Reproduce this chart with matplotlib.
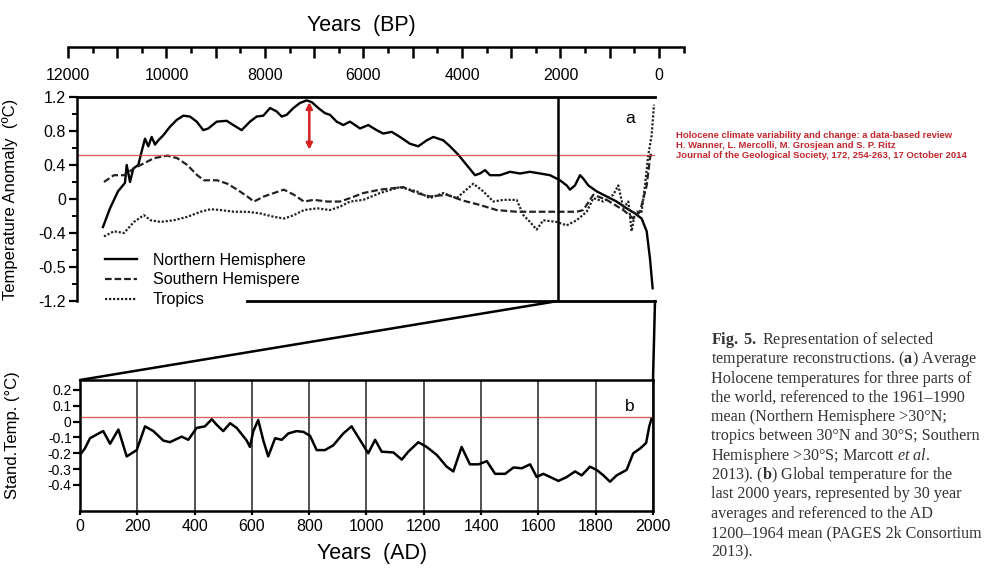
import numpy as np
import matplotlib
matplotlib.use('Agg')
import matplotlib.pyplot as plt
from matplotlib.ticker import MultipleLocator, FixedLocator, FuncFormatter
from matplotlib.patches import ConnectionPatch

plt.rcParams['font.family'] = 'Liberation Sans'
plt.rcParams['mathtext.fontset'] = 'custom'
plt.rcParams['mathtext.rm'] = 'Liberation Serif'
plt.rcParams['mathtext.bf'] = 'Liberation Serif:bold'
plt.rcParams['mathtext.it'] = 'Liberation Serif:italic'

# panel a: Holocene reconstructions (years BP, anomaly degC)
nh_bp = [11290, 11147, 10985, 10843, 10808, 10741, 10673, 10572, 10504, 10436,
         10369, 10301, 10233, 10166, 10064, 9929, 9793, 9658, 9523, 9387,
         9252, 9150, 8981, 8778, 8643, 8474, 8305, 8169, 8034, 7898,
         7763, 7661, 7560, 7424, 7289, 7154, 7052, 6917, 6782, 6680,
         6545, 6410, 6274, 6071, 5902, 5733, 5598, 5428, 5259, 5056,
         4887, 4717, 4582, 4379, 4244, 4074, 3905, 3736, 3635, 3533,
         3431, 3228, 3025, 2822, 2619, 2416, 2213, 2010, 1875, 1807,
         1706, 1604, 1537, 1435, 1266, 1063, 860, 657, 487, 352,
         250, 183, 129]
nh_t = [-0.33, -0.11, 0.09, 0.19, 0.40, 0.20, 0.36, 0.40, 0.56, 0.71,
        0.62, 0.73, 0.64, 0.69, 0.75, 0.85, 0.93, 0.98, 0.97, 0.91,
        0.81, 0.83, 0.91, 0.92, 0.87, 0.81, 0.91, 0.97, 0.98, 1.07,
        1.03, 0.97, 0.99, 1.07, 1.13, 1.16, 1.14, 1.07, 1.01, 0.99,
        0.91, 0.87, 0.91, 0.83, 0.87, 0.81, 0.77, 0.79, 0.73, 0.65,
        0.62, 0.69, 0.73, 0.69, 0.62, 0.52, 0.40, 0.28, 0.30, 0.34,
        0.28, 0.28, 0.32, 0.30, 0.32, 0.30, 0.28, 0.22, 0.16, 0.11,
        0.16, 0.28, 0.24, 0.16, 0.09, 0.03, -0.03, -0.11, -0.17, -0.23,
        -0.38, -0.70, -1.05]

sh_bp = [11270, 11067, 10864, 10661, 10458, 10255, 9984, 9781, 9578, 9375,
         9239, 8969, 8766, 8563, 8360, 8225, 8022, 7819, 7616, 7413,
         7210, 7007, 6737, 6477, 6274, 6004, 5665, 5192, 4921, 4650,
         4312, 3973, 3635, 3296, 2890, 2484, 2078, 1672, 1537, 1333,
         1063, 724, 521, 386, 250, 183, 149]
sh_t = [0.20, 0.28, 0.28, 0.36, 0.42, 0.48, 0.51, 0.48, 0.40, 0.28,
        0.22, 0.22, 0.18, 0.11, 0.03, -0.03, 0.03, 0.07, 0.11, 0.05,
        -0.03, -0.01, -0.03, -0.03, 0.01, 0.07, 0.11, 0.14, 0.07, 0.03,
        0.05, -0.02, -0.07, -0.13, -0.15, -0.15, -0.15, -0.15, -0.13, 0.05,
        -0.01, -0.13, -0.23, -0.15, 0.16, 0.48, 0.56]

tr_bp = [11270, 11067, 10864, 10661, 10458, 10323, 10120, 9849, 9578, 9307,
         9104, 8900, 8630, 8360, 8096, 7819, 7616, 7413, 7210, 6940,
         6680, 6477, 6274, 6004, 5665, 5259, 4921, 4650, 4379, 4109,
         3770, 3567, 3364, 3161, 2890, 2754, 2619, 2484, 2348, 2078,
         1875, 1672, 1469, 1333, 1130, 927, 826, 724, 623, 555,
         487, 352, 284, 217, 149, 102]
tr_t = [-0.44, -0.38, -0.40, -0.27, -0.19, -0.25, -0.27, -0.25, -0.21, -0.15,
        -0.12, -0.13, -0.15, -0.15, -0.17, -0.21, -0.23, -0.19, -0.13, -0.11,
        -0.13, -0.09, -0.03, -0.01, 0.07, 0.14, 0.09, 0.01, 0.07, 0.01,
        0.18, 0.09, -0.03, -0.01, -0.01, -0.19, -0.27, -0.36, -0.25, -0.27,
        -0.31, -0.25, -0.15, 0.01, -0.03, 0.05, 0.16, -0.11, -0.03, -0.38,
        -0.15, -0.15, 0.16, 0.52, 0.75, 1.11]

a_ticks = [1.2, 0.8, 0.4, 0, -0.4, -0.8, -1.2]
a_ticklabels = ['1.2', '0.8', '0.4', '0', '-0.4', '-0.5', '-1.2']
a_ref = 0.52
arrow_bp = 7100
arrow_t = [0.58, 1.14]
split_bp = 2050

# panel b: last 2000 years (AD, standardised temp)
ad = [0, 17, 35, 70, 81, 105, 134, 163, 198, 227,
      256, 291, 314, 343, 355, 378, 407, 436, 460, 477,
      500, 524, 547, 582, 593, 605, 622, 640, 657, 681,
      704, 727, 756, 780, 803, 826, 855, 884, 919, 948,
      977, 1006, 1030, 1053, 1094, 1123, 1146, 1181, 1210, 1245,
      1280, 1303, 1332, 1361, 1391, 1420, 1449, 1484, 1513, 1542,
      1571, 1594, 1617, 1641, 1670, 1699, 1728, 1751, 1780, 1803,
      1827, 1850, 1873, 1908, 1931, 1955, 1976, 1987, 1995]
b_t = [-0.21, -0.17, -0.105, -0.07, -0.06, -0.14, -0.05, -0.22, -0.18, -0.03,
       -0.06, -0.12, -0.13, -0.105, -0.095, -0.115, -0.04, -0.03, 0.015, -0.02,
       -0.06, -0.01, -0.04, -0.12, -0.16, -0.06, 0.01, -0.12, -0.22, -0.105,
       -0.115, -0.075, -0.06, -0.065, -0.09, -0.18, -0.18, -0.15, -0.075, -0.03,
       -0.115, -0.2, -0.115, -0.19, -0.195, -0.24, -0.19, -0.13, -0.16, -0.21,
       -0.285, -0.315, -0.16, -0.27, -0.27, -0.25, -0.33, -0.33, -0.29, -0.295,
       -0.27, -0.35, -0.33, -0.35, -0.375, -0.35, -0.315, -0.34, -0.285, -0.305,
       -0.34, -0.38, -0.34, -0.305, -0.2, -0.17, -0.135, -0.03, 0.02]
b_ticks = [0.2, 0.1, 0, -0.1, -0.2, -0.3, -0.4]
b_ref = 0.03

citation = ['Holocene climate variability and change: a data-based review',
            'H. Wanner, L. Mercolli, M. Grosjean and S. P. Ritz',
            'Journal of the Geological Society, 172, 254-263, 17 October 2014']

caption = [r'$\mathbf{Fig.}$ $\mathbf{5.}$ Representation of selected',
           r'temperature reconstructions. ($\mathbf{a}$) Average',
           'Holocene temperatures for three parts of',
           'the world, referenced to the 1961\u20131990',
           'mean (Northern Hemisphere >30\u00b0N;',
           'tropics between 30\u00b0N and 30\u00b0S; Southern',
           r'Hemisphere >30$\degree$S; Marcott $\mathit{et}$ $\mathit{al.}$',
           r'2013). ($\mathbf{b}$) Global temperature for the',
           'last 2000 years, represented by 30 year',
           'averages and referenced to the AD',
           '1200\u20131964 mean (PAGES 2k Consortium',
           '2013).']

W, H = 989, 570
fig = plt.figure(figsize=(W / 100, H / 100), dpi=100)

def box(x0, y0, x1, y1):
    # pixel box (top-left origin) -> figure fraction rect
    return [x0 / W, 1 - y1 / H, (x1 - x0) / W, (y1 - y0) / H]

red = '#d03a3a'

# ---- top BP axis
axt = fig.add_axes(box(68, 46.7, 683.6, 46.8))
axt.patch.set_visible(False)
for s in ['top', 'left', 'right']:
    axt.spines[s].set_visible(False)
axt.spines['bottom'].set_linewidth(1.8)
axt.set_xlim(12000, -500)
axt.set_yticks([])
axt.xaxis.set_major_locator(MultipleLocator(1000))
axt.xaxis.set_minor_locator(MultipleLocator(500))
axt.xaxis.set_major_formatter(FuncFormatter(lambda v, p: '%d' % v if v % 2000 == 0 else ''))
axt.tick_params(axis='x', which='major', length=8, width=1.8, pad=7, labelsize=11.5)
axt.tick_params(axis='x', which='minor', length=4.5, width=1.8)
fig.text(361 / W, 1 - 25 / H, 'Years  (BP)', ha='center', va='center', fontsize=15.5)

# ---- panel a
axa = fig.add_axes(box(77, 97, 655, 301))
axa.set_xlim(11817, 81)
axa.set_ylim(-1.2, 1.2)
axa.plot(nh_bp, nh_t, color='black', lw=1.7, label='Northern Hemisphere')
axa.plot(sh_bp, sh_t, color='#222222', lw=1.6, dashes=(3, 1.3), label='Southern Hemispere')
axa.plot(tr_bp, tr_t, color='#222222', lw=1.6, dashes=(1, 0.8), label='Tropics')
axa.axhline(a_ref, color=red, lw=1.0, alpha=0.8)
axa.axvline(split_bp, color='black', lw=1.8)
axa.annotate('', xy=(arrow_bp, arrow_t[1]), xytext=(arrow_bp, arrow_t[0]),
             arrowprops=dict(arrowstyle='<|-|>', color='#d42020', lw=1.8,
                             mutation_scale=9, shrinkA=0, shrinkB=0))
for s in ['right', 'bottom']:
    axa.spines[s].set_visible(False)
axa.spines['top'].set_linewidth(2.0)
axa.spines['left'].set_linewidth(1.8)
axa.plot([0.294, 1], [0, 0], color='black', lw=2.0, transform=axa.transAxes, clip_on=False)
axa.set_xticks([])
axa.yaxis.set_major_locator(FixedLocator(a_ticks))
axa.set_yticklabels(a_ticklabels)
axa.yaxis.set_minor_locator(MultipleLocator(0.2))
axa.tick_params(axis='y', which='major', length=6, width=1.6, labelsize=11.5, pad=2)
axa.tick_params(axis='y', which='minor', length=3.5, width=1.4)
axa.set_ylabel('Temperature Anomaly  (\u00baC)', fontsize=12)
axa.yaxis.set_label_coords(-0.102, 0.5)
axa.text(0.957, 0.897, 'a', transform=axa.transAxes, ha='center', va='center', fontsize=12.5)
axa.legend(loc='lower left', bbox_to_anchor=(0.048, -0.03), frameon=False, fontsize=11.5,
           handlelength=2.0, handletextpad=1.0, labelspacing=0.3, borderpad=0, borderaxespad=0)

# ---- panel b
axb = fig.add_axes(box(80, 380, 653, 511))
axb.set_xlim(0, 2000)
axb.set_ylim(-0.565, 0.263)
axb.plot(ad, b_t, color='black', lw=1.8)
axb.axhline(b_ref, color=red, lw=1.0, alpha=0.8)
axb.xaxis.set_major_locator(MultipleLocator(200))
axb.xaxis.grid(True, color='#222222', lw=1.1)
axb.yaxis.set_major_locator(FixedLocator(b_ticks))
axb.set_yticklabels(['%g' % v for v in b_ticks])
for s in axb.spines.values():
    s.set_linewidth(1.8)
axb.tick_params(axis='y', length=5, width=1.6, labelsize=10, pad=1)
axb.tick_params(axis='x', length=3, width=1.6, labelsize=11.5, pad=3)
axb.set_ylabel('Stand.Temp. (\u00b0C)', fontsize=12)
axb.yaxis.set_label_coords(-0.105, 0.58)
axb.text(0.96, 0.794, 'b', transform=axb.transAxes, ha='center', va='center', fontsize=12.5)
fig.text(372 / W, 1 - 553 / H, 'Years  (AD)', ha='center', va='center', fontsize=15.5)

# zoom connectors between the two panels
con1 = ConnectionPatch(xyA=(split_bp, -1.2), coordsA='data', axesA=axa,
                       xyB=(0, 1), coordsB='axes fraction', axesB=axb, color='black', lw=1.8)
con2 = ConnectionPatch(xyA=(1, 0), coordsA='axes fraction', axesA=axa,
                       xyB=(1, 1), coordsB='axes fraction', axesB=axb, color='black', lw=1.8)
fig.add_artist(con1)
fig.add_artist(con2)

# citation in red
for i, line in enumerate(citation):
    fig.text(676 / W, 1 - (135 + 10 * i) / H, line, color='#c0282e', fontsize=6.8,
             fontweight='bold', ha='left', va='center')

# caption
for i, line in enumerate(caption):
    fig.text(711 / W, 1 - (340 + 19.3 * i) / H, line, color='#333333', fontsize=11.6,
             family='Liberation Serif', ha='left', va='center')

plt.savefig('out.png', dpi=100)
